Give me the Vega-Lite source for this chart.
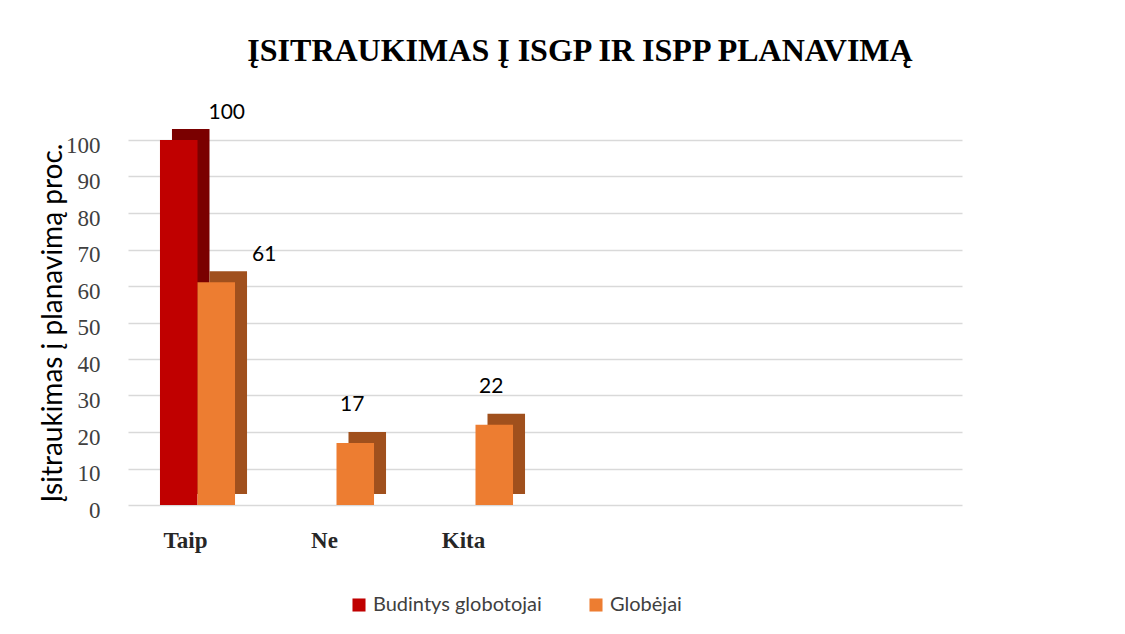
{
  "$schema": "https://vega.github.io/schema/vega-lite/v6.json",
  "autosize": {"type": "none"},
  "padding": {"left": 128, "top": 140, "right": 163, "bottom": 129},
  "width": 834,
  "height": 365,
  "background": "white",
  "title": {
    "text": "ĮSITRAUKIMAS  Į ISGP IR  ISPP PLANAVIMĄ",
    "font": "Liberation Serif",
    "fontSize": 32,
    "fontWeight": "bold",
    "color": "#000000",
    "anchor": "middle",
    "dx": 35,
    "offset": 34
  },
  "data": {
    "values": [
      {"kategorija": "Taip", "grupe": "Budintys globotojai", "reiksme": 100},
      {"kategorija": "Taip", "grupe": "Globėjai", "reiksme": 61},
      {"kategorija": "Ne", "grupe": "Globėjai", "reiksme": 17},
      {"kategorija": "Kita", "grupe": "Globėjai", "reiksme": 22}
    ]
  },
  "encoding": {
    "x": {
      "field": "kategorija",
      "type": "nominal",
      "sort": null,
      "scale": {"domain": ["Taip", "Ne", "Kita", " ", "  ", "   "], "paddingInner": 0.46, "paddingOuter": 0.23},
      "axis": {
        "title": null,
        "labelAngle": 0,
        "labelFont": "Liberation Serif",
        "labelFontSize": 23,
        "labelFontWeight": "bold",
        "labelColor": "#262626",
        "labelPadding": 24,
        "labelOffset": -12,
        "ticks": false,
        "domain": false,
        "grid": false
      }
    },
    "y": {
      "field": "reiksme",
      "type": "quantitative",
      "scale": {"domain": [0, 100], "nice": false},
      "axis": {
        "title": "Įsitraukimas į planavimą proc.",
        "titleFont": "Lato",
        "titleFontSize": 28,
        "titleFontWeight": "normal",
        "titleColor": "#000000",
        "titlePadding": -2,
        "values": [0, 10, 20, 30, 40, 50, 60, 70, 80, 90, 100],
        "labelFont": "Liberation Serif",
        "labelFontSize": 23,
        "labelColor": "#404040",
        "labelPadding": 28,
        "labelOffset": 5,
        "ticks": false,
        "domain": false,
        "grid": true,
        "gridColor": "#d9d9d9",
        "gridWidth": 1.5
      }
    }
  },
  "layer": [
    {
      "mark": {"type": "bar", "yOffset": -11, "y2Offset": -5},
      "encoding": {
        "xOffset": {"field": "grupe", "type": "nominal", "scale": {"type": "band", "domain": ["Budintys globotojai", "Globėjai"], "range": [12, 87.06], "paddingInner": 0, "paddingOuter": 0}},
        "color": {
          "condition": {"test": "datum.grupe === 'Budintys globotojai'", "value": "#7a0000"},
          "value": "#a0501d"
        }
      }
    },
    {
      "mark": {"type": "bar"},
      "encoding": {
        "xOffset": {"field": "grupe", "type": "nominal", "scale": {"type": "band", "domain": ["Budintys globotojai", "Globėjai"], "range": [0, 75.06], "paddingInner": 0, "paddingOuter": 0}},
        "color": {
          "field": "grupe",
          "type": "nominal",
          "scale": {"domain": ["Budintys globotojai", "Globėjai"], "range": ["#c00000", "#ed7d31"]},
          "legend": {
            "title": null,
            "orient": "none",
            "legendX": 221,
            "legendY": 455,
            "direction": "horizontal",
            "symbolType": "square",
            "symbolSize": 170,
            "symbolStrokeWidth": 0,
            "labelFont": "Lato",
            "labelFontSize": 20,
            "labelColor": "#404040",
            "labelLimit": 0,
            "columnPadding": 44
          }
        }
      }
    },
    {
      "transform": [{"filter": "datum.kategorija === 'Taip'"}],
      "mark": {"type": "text", "font": "Lato", "fontSize": 21, "color": "#000000", "dx": 48, "dy": -27},
      "encoding": {
        "xOffset": {"field": "grupe", "type": "nominal", "scale": {"type": "band", "domain": ["Budintys globotojai", "Globėjai"], "range": [0, 75.06], "paddingInner": 0, "paddingOuter": 0}},
        "text": {"field": "reiksme", "type": "quantitative"}
      }
    },
    {
      "transform": [{"filter": "datum.kategorija !== 'Taip'"}],
      "mark": {"type": "text", "font": "Lato", "fontSize": 21, "color": "#000000", "dx": -3, "dy": -38},
      "encoding": {
        "xOffset": {"field": "grupe", "type": "nominal", "scale": {"type": "band", "domain": ["Budintys globotojai", "Globėjai"], "range": [0, 75.06], "paddingInner": 0, "paddingOuter": 0}},
        "text": {"field": "reiksme", "type": "quantitative"}
      }
    }
  ],
  "resolve": {"scale": {"xOffset": "independent"}},
  "config": {"view": {"stroke": null}}
}
